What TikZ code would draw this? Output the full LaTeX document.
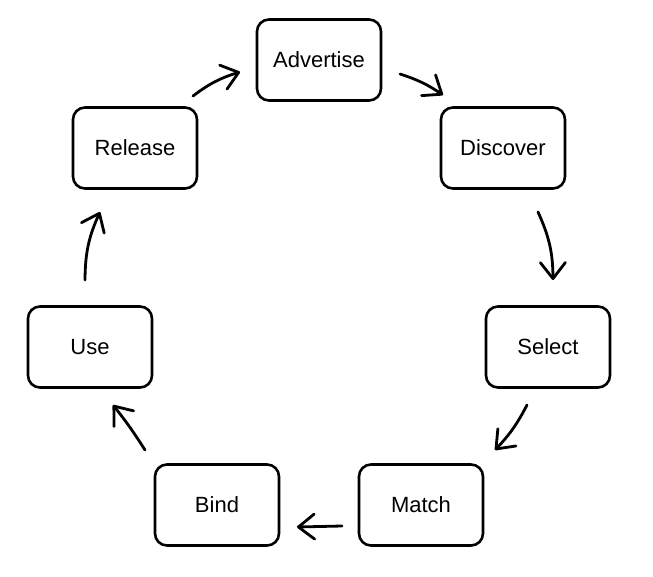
\documentclass[tikz,border=0pt]{standalone}
\usepackage{fontspec}
\setmainfont{Liberation Sans}
\usetikzlibrary{arrows.meta}
\begin{document}
\begin{tikzpicture}[x=1pt,y=-1pt,
  stagebox/.style={draw=black,line width=2.6pt,rounded corners=12pt,minimum width=124pt,minimum height=81pt,inner sep=0pt,font=\fontsize{22}{26}\selectfont,fill=white},
  flow/.style={line width=2.8pt,line cap=round,-{Straight Barb[length=16pt,width=25pt,line cap=round,line join=round]}}]
\useasboundingbox[fill=white] (0,0) rectangle (653,576);
\node[stagebox] (adv) at (319,60) {Advertise};
\node[stagebox] (dis) at (503,148) {Discover};
\node[stagebox] (rel) at (135,148) {Release};
\node[stagebox] (use) at (90,347) {Use};
\node[stagebox] (sel) at (548,347) {Select};
\node[stagebox] (bin) at (217,505) {Bind};
\node[stagebox] (mat) at (421,505) {Match};
\coordinate (a1) at (193,96);  \coordinate (b1) at (240,72);
\coordinate (a2) at (400,74);  \coordinate (b2) at (443,95);
\coordinate (a3) at (538,212); \coordinate (b3) at (553,280);
\coordinate (a4) at (527,405); \coordinate (b4) at (495,450);
\coordinate (a5) at (342,526); \coordinate (b5) at (297,527);
\coordinate (a6) at (145,450); \coordinate (b6) at (113,405);
\coordinate (a7) at (85,280);  \coordinate (b7) at (100,212);
\draw[flow] (a1) to[bend left=10] (b1);
\draw[flow] (a2) to[bend left=8] (b2);
\draw[flow] (a3) to[bend left=12] (b3);
\draw[flow] (a4) to[bend left=8] (b4);
\draw[flow] (a5) to (b5);
\draw[flow] (a6) to[bend right=3] (b6);
\draw[flow] (a7) to[bend left=12] (b7);
\end{tikzpicture}
\end{document}
